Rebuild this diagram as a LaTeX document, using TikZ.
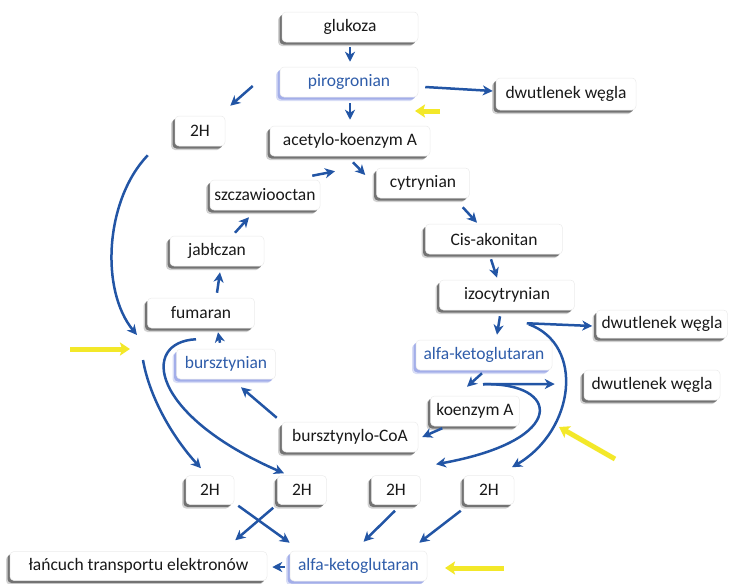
\documentclass[tikz,border=0pt]{standalone}
\usepackage{fontspec}
\setmainfont{Carlito}
\usetikzlibrary{arrows.meta,shadows,calc}
\definecolor{arrblue}{HTML}{2255A5}
\definecolor{txtblue}{HTML}{2F5DAA}
\definecolor{ylw}{HTML}{F3E829}
\definecolor{glow}{HTML}{7F8FE0}
\tikzset{
 boxbase/.style={rounded corners=4pt, fill=white, draw=black!8, line width=0.5pt, minimum height=30pt, inner sep=0pt, font=\fontsize{17.5}{20}\selectfont},
 box/.style={boxbase, text=black!90,
   drop shadow={shadow xshift=-4pt, shadow yshift=-4pt, fill=black, opacity=0.18},
   drop shadow={shadow xshift=-2.5pt, shadow yshift=-2.5pt, fill=black, opacity=0.45}},
 bluebox/.style={boxbase, text=txtblue,
   drop shadow={shadow xshift=-4pt, shadow yshift=-4pt, fill=glow, opacity=0.3},
   drop shadow={shadow xshift=-2.5pt, shadow yshift=-2.5pt, fill=glow, opacity=0.6}},
 arr/.style={draw=arrblue, line width=2.5pt, -{Stealth[length=10pt,width=10pt,inset=3pt]}},
 yarr/.style={draw=ylw, line width=5pt, -{Stealth[length=10pt,width=13pt,inset=2pt]}},
}
\begin{document}
\begin{tikzpicture}[x=1pt,y=-1pt]
\useasboundingbox (0,0) rectangle (729,584);
% nodes
\node[box, minimum width=136pt] (gluk) at (350,27) {glukoza};
\node[bluebox, minimum width=138pt] (piro) at (349,82) {pirogronian};
\node[box, minimum width=140pt, minimum height=32pt] (dw1) at (566,94) {dwutlenek węgla};
\node[box, minimum width=50pt] (h2a) at (200,131) {2H};
\node[box, minimum width=160pt] (acet) at (350,141) {acetylo-koenzym A};
\node[box, minimum width=93pt] (cyt) at (423,183) {cytrynian};
\node[box, minimum width=110pt] (szcz) at (265,195) {szczawiooctan};
\node[box, minimum width=94pt] (jabl) at (217,251) {jabłczan};
\node[box, minimum width=137pt] (cis) at (494,239) {Cis-akonitan};
\node[box, minimum width=135pt] (izo) at (507,295) {izocytrynian};
\node[box, minimum width=107pt] (fum) at (201,313) {fumaran};
\node[box, minimum width=131pt, minimum height=28pt] (dw2) at (662,324) {dwutlenek węgla};
\node[bluebox, minimum width=99pt] (burs) at (226,364) {bursztynian};
\node[bluebox, minimum width=136pt] (alfa) at (484,355) {alfa-ketoglutaran};
\node[box, minimum width=136pt] (dw3) at (652,385) {dwutlenek węgla};
\node[box, minimum width=89pt] (koen) at (475,411) {koenzym A};
\node[box, minimum width=136pt] (bcoa) at (350,437) {bursztynylo-CoA};
\node[box, minimum width=48pt, minimum height=29pt] (h2b) at (210,490) {2H};
\node[box, minimum width=49pt, minimum height=29pt] (h2c) at (302,490) {2H};
\node[box, minimum width=49pt, minimum height=29pt] (h2d) at (396,490) {2H};
\node[box, minimum width=50pt, minimum height=29pt] (h2e) at (489,490) {2H};
\node[box, minimum width=257pt, minimum height=29pt] (lan) at (138.5,566) {łańcuch transportu elektronów};
\node[bluebox, minimum width=137pt, minimum height=30pt] (alfb) at (358.5,566) {alfa-ketoglutaran};
% free ends
\coordinate (hubL) at (137,335);
\coordinate (hubL2) at (143,360);
% arrows
\draw[arr, shorten <=5pt, shorten >=5pt] (gluk.south) -- (gluk.south |- piro.north);
\draw[arr, shorten <=6pt, shorten >=6pt] (piro.south -| acet.north) -- (acet.north);
\draw[arr] ([shift={(7,5)}]piro.east) -- ([shift={(-3,-3)}]dw1.west);
\draw[arr] ([shift={(-27,4)}]piro.west) -- ([shift={(5,-10)}]h2a.north east);
\draw[arr] ([shift={(3,6)}]acet.south) -- ([shift={(-11,-8)}]cyt.west);
\draw[arr] ([shift={(-8,-4)}]szcz.north east) -- ([shift={(-15,15)}]acet.south);
\draw[arr] ([shift={(-7,9)}]cyt.south east) -- ([shift={(-17,-1)}]cis.north);
\draw[arr] ([shift={(-3,5)}]cis.south) -- ([shift={(-10,-2)}]izo.north);
\draw[arr] ([shift={(-7,6)}]izo.south) -- ([shift={(13,-5)}]alfa.north);
\draw[arr] ([shift={(-48,13)}]izo.south east) -- ([shift={(-4,2)}]dw2.west);
\draw[arr] ([shift={(-46,14)}]izo.south east) .. controls (585,345) and (575,430) .. ([shift={(23,-8)}]h2e.north);
\draw[arr] ([shift={(-2,3)}]alfa.south) -- ([shift={(-8,-9)}]koen.north);
\draw[arr] ([shift={(-1,14)}]alfa.south) -- ([shift={(-29,-1)}]dw3.west);
\draw[arr] ([shift={(-1,14)}]alfa.south) .. controls (560,382) and (570,440) .. ([shift={(40,-11)}]h2d.north);
\draw[arr] ([shift={(12,2)}]koen.south west) -- ([shift={(4,0)}]bcoa.east);
\draw[arr] ([shift={(-5,-4)}]bcoa.north west) -- ([shift={(15,8)}]burs.south);
\draw[arr] ([shift={(-6,-6)}]burs.north) -- ([shift={(17,4)}]fum.south);
\draw[arr] ([shift={(16,-5)}]fum.north) -- ([shift={(3,6)}]jabl.south);
\draw[arr] ([shift={(18,-3)}]jabl.north) -- ([shift={(-16,7)}]szcz.south);
\draw[arr] ([shift={(-27,9)}]h2a.south west) .. controls (105,200) and (100,290) .. (hubL);
\draw[arr] (hubL2) .. controls (150,400) and (175,440) .. ([shift={(-9,-7)}]h2b.north);
\draw[arr] ([shift={(-5,11)}]fum.south) .. controls (140,342) and (150,415) .. ([shift={(-18,-2)}]h2c.north);
\draw[arr] ([shift={(4,1)}]h2b.south east) -- ([shift={(0,-8)}]alfb.north west);
\draw[arr] ([shift={(-4,3)}]h2c.south west) -- ([shift={(-32,-11)}]lan.north east);
\draw[arr] ([shift={(-1,6)}]h2d.south) -- ([shift={(5,-9)}]alfb.north);
\draw[arr] ([shift={(-3,6)}]h2e.south west) -- ([shift={(-8,-8)}]alfb.north east);
\draw[arr] ([shift={(-5,1)}]alfb.west) -- ([shift={(5,1)}]lan.east);
% yellow markers
\draw[yarr] (440,111) -- (415,111);
\draw[yarr] (70,349) -- (130,349);
\draw[yarr] (504,568) -- (445,568);
\draw[yarr] (615,459) -- (559,427);
\end{tikzpicture}
\end{document}
